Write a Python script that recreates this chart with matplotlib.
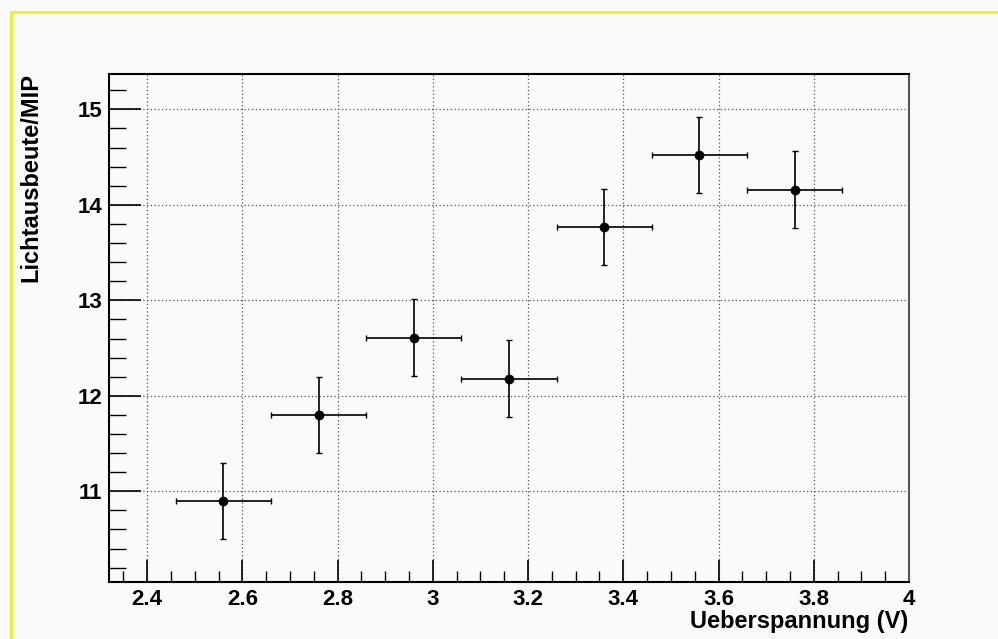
import matplotlib
matplotlib.use("Agg")
import matplotlib.pyplot as plt
from matplotlib.ticker import MultipleLocator
from matplotlib.patches import Rectangle

voltage = [2.56, 2.76, 2.96, 3.16, 3.36, 3.56, 3.76]
voltage_err = [0.1, 0.1, 0.1, 0.1, 0.1, 0.1, 0.1]
light_yield = [10.90, 11.80, 12.61, 12.18, 13.77, 14.52, 14.16]
light_yield_err = [0.40, 0.40, 0.40, 0.40, 0.40, 0.40, 0.40]

x_label = "Ueberspannung (V)"
y_label = "Lichtausbeute/MIP"

plt.rcParams['font.family'] = ['Liberation Sans', 'DejaVu Sans']

fig = plt.figure(figsize=(9.98, 6.39), dpi=100)
fig.patch.set_facecolor('#fafafa')
W, H = 998, 639
ax = fig.add_axes([109 / W, 1 - 582 / H, 800 / W, 508 / H])
ax.set_facecolor('#fafafa')

# yellow frame (top & left)
fig.add_artist(Rectangle((10.5 / W, -0.1), 1.2, 1 - 12.5 / H + 0.1, transform=fig.transFigure,
                         fill=False, edgecolor='#f0f020', linewidth=2.0))

ax.errorbar(voltage, light_yield, xerr=voltage_err, yerr=light_yield_err,
            fmt='o', color='black', markersize=6, elinewidth=1.2, capsize=2.5,
            capthick=1.0, zorder=5)

ax.set_xlim(2.32, 4.0)
ax.set_ylim(10.05, 15.37)
ax.xaxis.set_minor_locator(MultipleLocator(0.05))
ax.yaxis.set_minor_locator(MultipleLocator(0.2))
ax.set_xticks([2.4, 2.6, 2.8, 3.0, 3.2, 3.4, 3.6, 3.8, 4.0])
ax.set_xticklabels(['2.4', '2.6', '2.8', '3', '3.2', '3.4', '3.6', '3.8', '4'])
ax.set_yticks([11, 12, 13, 14, 15])
ax.set_yticklabels(['11', '12', '13', '14', '15'])

ax.tick_params(axis='both', which='major', direction='in', labelsize=16, width=1.2,
               color='black')
ax.tick_params(axis='x', which='major', length=16, pad=5)
ax.tick_params(axis='x', which='minor', direction='in', length=8, width=1.0)
ax.tick_params(axis='y', which='major', length=23, pad=5)
ax.tick_params(axis='y', which='minor', direction='in', length=12, width=1.0)
for lbl in ax.get_xticklabels() + ax.get_yticklabels():
    lbl.set_fontweight('bold')

ax.grid(True, which='major', linestyle=(0, (1, 2)), color='#555555', linewidth=0.9)
ax.set_axisbelow(True)

for side in ['left', 'bottom', 'top']:
    ax.spines[side].set_linewidth(1.5)
    ax.spines[side].set_color('black')
ax.spines['right'].set_linewidth(1.5)
ax.spines['right'].set_color('#555555')

fig.text(908 / W, 1 - 628 / H, x_label, ha='right', va='baseline', fontsize=17,
         fontweight='bold')
fig.text(31 / W, 1 - 73 / H, y_label, ha='center', va='top', rotation=90,
         fontsize=17, fontweight='bold')

fig.savefig('out.png', dpi=100, facecolor=fig.get_facecolor())
